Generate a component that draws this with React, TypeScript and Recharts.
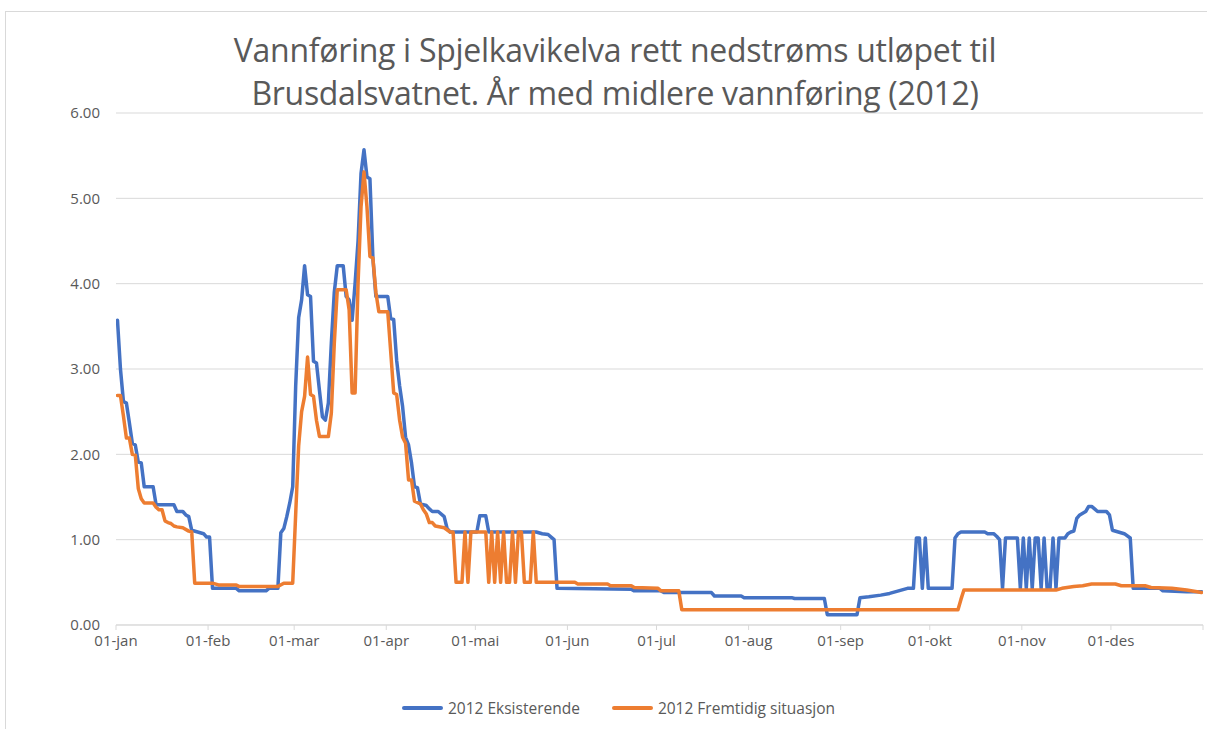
import React from 'react';
import { LineChart, Line, XAxis, YAxis, CartesianGrid } from 'recharts';

const titleLines = [
  'Vannføring i Spjelkavikelva rett nedstrøms utløpet til',
  'Brusdalsvatnet. År med midlere vannføring (2012)',
];
const seriesNames = ['2012 Eksisterende', '2012 Fremtidig situasjon'];
const seriesColors = ['#4472C4', '#ED7D31'];

const monthStartDays = [0, 31, 60, 91, 121, 152, 182, 213, 244, 274, 305, 335, 366];
const monthLabels = ['01-jan', '01-feb', '01-mar', '01-apr', '01-mai', '01-jun', '01-jul', '01-aug', '01-sep', '01-okt', '01-nov', '01-des', ''];
const yTicks = [0, 1, 2, 3, 4, 5, 6];

// Day of year (0 = 1 January 2012) and flow values
const eksisterendeDays = [
  0, 1, 2, 3, 4, 5, 6, 7, 8, 9, 12, 13, 19, 20, 22, 23, 24, 25, 27, 29, 30, 31, 32, 40, 41, 50, 51, 54,
  55, 56, 57, 58, 59, 60, 61, 62, 63, 64, 65, 66, 67, 68, 69, 70, 71, 72, 73, 74, 76, 77, 78, 79, 80, 81,
  82, 83, 84, 85, 86, 87, 91, 92, 93, 94, 95, 96, 97, 98, 99, 100, 101, 102, 104, 105, 106, 108, 110, 111,
  112, 121, 122, 124, 125, 141, 143, 145, 146, 147, 148, 173, 174, 183, 184, 200, 201, 210, 211, 227, 228,
  238, 239, 249, 250, 253, 257, 260, 263, 266, 268, 269, 270, 271, 272, 273, 281, 282, 283, 284, 292, 293,
  295, 296, 297, 298, 299, 303, 304, 305, 306, 307, 308, 309, 310, 311, 312, 313, 314, 315, 316, 317, 319,
  320, 321, 322, 323, 324, 325, 326, 327, 328, 329, 330, 333, 334, 335, 337, 339, 341, 342, 351, 352, 360, 365,
];
const eksisterendeValues = [
  3.57, 3.0, 2.62, 2.6, 2.37, 2.13, 2.11, 1.91, 1.9, 1.62, 1.62, 1.41, 1.41, 1.33, 1.33, 1.29, 1.27, 1.11, 1.09, 1.07, 1.03, 1.03, 0.43, 0.43, 0.4, 0.4, 0.43, 0.43,
  1.08, 1.13, 1.27, 1.43, 1.62, 2.8, 3.6, 3.81, 4.21, 3.87, 3.85, 3.09, 3.07, 2.75, 2.44, 2.4, 2.6, 3.3, 3.9, 4.21, 4.21, 3.85, 3.81, 3.57, 4.0, 4.5,
  5.29, 5.57, 5.25, 5.23, 4.3, 3.85, 3.85, 3.59, 3.58, 3.1, 2.8, 2.56, 2.2, 2.11, 1.9, 1.62, 1.61, 1.42, 1.4, 1.36, 1.33, 1.33, 1.27, 1.13,
  1.09, 1.09, 1.28, 1.28, 1.09, 1.09, 1.07, 1.06, 1.03, 1.0, 0.43, 0.42, 0.4, 0.4, 0.38, 0.38, 0.34, 0.34, 0.32, 0.32, 0.31,
  0.31, 0.12, 0.12, 0.32, 0.33, 0.35, 0.37, 0.4, 0.43, 0.43, 1.02, 1.02, 0.43, 1.02, 0.43, 0.43, 1.02, 1.07, 1.09, 1.09, 1.07,
  1.07, 1.04, 1.0, 0.43, 1.02, 1.02, 0.43, 1.02, 0.43, 1.02, 0.43, 1.02, 1.02, 0.43, 1.02, 0.43, 0.43, 1.02, 0.43, 1.02, 1.02,
  1.07, 1.09, 1.1, 1.25, 1.29, 1.31, 1.33, 1.39, 1.39, 1.36, 1.33, 1.33, 1.29, 1.11, 1.09, 1.07, 1.02, 0.43, 0.43, 0.4, 0.39, 0.39,
];

const fremtidigDays = [
  0, 1, 2, 3, 4, 5, 6, 7, 8, 9, 12, 13, 14, 15, 16, 17, 18, 19, 20, 22, 24, 25, 26, 32, 34, 40, 41, 54, 56, 59,
  60, 61, 62, 63, 64, 65, 66, 67, 68, 71, 72, 73, 74, 77, 78, 79, 80, 81, 82, 83, 84, 85, 86, 87, 88, 91, 92, 93,
  94, 95, 96, 97, 98, 99, 100, 102, 103, 104, 105, 106, 107, 110, 112, 113, 114, 116, 117, 118, 119, 124, 125,
  126, 127, 128, 129, 130, 131, 132, 133, 134, 135, 136, 137, 139, 140, 141, 154, 155, 165, 166, 173, 174, 182,
  183, 189, 190, 283, 284, 285, 316, 318, 322, 325, 328, 336, 338, 346, 348, 355, 360, 365,
];
const fremtidigValues = [
  2.69, 2.69, 2.45, 2.19, 2.19, 2.0, 1.99, 1.6, 1.48, 1.43, 1.43, 1.38, 1.35, 1.35, 1.22, 1.2, 1.19, 1.16, 1.15, 1.14, 1.1, 1.09, 0.49, 0.49, 0.47, 0.47, 0.45, 0.45, 0.49, 0.49,
  1.3, 2.1, 2.5, 2.68, 3.14, 2.7, 2.68, 2.4, 2.21, 2.21, 2.48, 3.3, 3.93, 3.93, 3.69, 2.72, 2.72, 4.0, 4.9, 5.31, 4.9, 4.32, 4.3, 3.9, 3.67, 3.67, 3.2, 2.72,
  2.7, 2.4, 2.2, 2.13, 1.7, 1.7, 1.45, 1.42, 1.35, 1.3, 1.2, 1.2, 1.16, 1.14, 1.09, 1.09, 0.5, 0.5, 1.09, 0.5, 1.09, 1.09, 0.5,
  1.09, 0.5, 1.09, 0.5, 1.09, 0.5, 0.5, 1.09, 0.5, 1.09, 1.09, 0.5, 0.5, 1.09, 0.5, 0.5, 0.48, 0.48, 0.46, 0.46, 0.44, 0.43,
  0.4, 0.4, 0.18, 0.18, 0.3, 0.41, 0.41, 0.43, 0.45, 0.46, 0.48, 0.48, 0.46, 0.46, 0.44, 0.43, 0.41, 0.38,
];

const toPoints = (days: number[], values: number[]) =>
  days.map((d, i) => ({ x: d + 0.5, y: values[i] }));

const seriesData = [
  toPoints(eksisterendeDays, eksisterendeValues),
  toPoints(fremtidigDays, fremtidigValues),
];

const FONT = "'Open Sans', 'Noto Sans', sans-serif";
const TEXT = '#595959';
const GRID = '#d9d9d9';

export default function App() {
  return (
    <div style={{ position: 'absolute', left: 0, top: 0, width: 1207, height: 729, background: '#fff', overflow: 'hidden', fontFamily: FONT }}>
      <div style={{ position: 'absolute', left: 5, top: 11, width: 1220, height: 740, border: `1px solid ${GRID}`, boxSizing: 'border-box' }} />
      <div style={{ position: 'absolute', left: 0, top: 28, width: 1230, textAlign: 'center', color: TEXT, fontSize: 32, lineHeight: '43px', letterSpacing: -0.3 }}>
        {titleLines.map((t) => (
          <div key={t}>{t}</div>
        ))}
      </div>
      <div style={{ position: 'absolute', left: 0, top: 0 }}>
        <LineChart width={1207} height={729} margin={{ top: 113, right: 4, left: 56, bottom: 74 }}>
          <CartesianGrid vertical={false} stroke={GRID} strokeWidth={1} />
          <XAxis
            type="number"
            dataKey="x"
            domain={[0, 366]}
            ticks={monthStartDays}
            interval={0}
            allowDataOverflow
            tickFormatter={(v: number) => monthLabels[monthStartDays.indexOf(v)] ?? ''}
            axisLine={{ stroke: GRID }}
            tickLine={{ stroke: GRID }}
            tickSize={5}
            tickMargin={5}
            height={30}
            tick={{ fill: TEXT, fontSize: 15, fontFamily: FONT }}
          />
          <YAxis
            type="number"
            domain={[0, 6]}
            ticks={yTicks}
            interval={0}
            tickFormatter={(v: number) => v.toFixed(2)}
            axisLine={false}
            tickLine={false}
            tickSize={6}
            tickMargin={10}
            width={60}
            tick={{ fill: TEXT, fontSize: 15, fontFamily: FONT }}
          />
          {seriesData.map((pts, i) => (
            <Line
              key={seriesNames[i]}
              data={pts}
              dataKey="y"
              name={seriesNames[i]}
              type="linear"
              stroke={seriesColors[i]}
              strokeWidth={3.5}
              strokeLinejoin="round"
              strokeLinecap="round"
              dot={false}
              activeDot={false}
              isAnimationActive={false}
            />
          ))}
        </LineChart>
      </div>
      <div style={{ position: 'absolute', left: 402, top: 697, display: 'flex', alignItems: 'center', color: TEXT, fontSize: 15.5, lineHeight: '22px' }}>
        {seriesNames.map((n, i) => (
          <div key={n} style={{ display: 'flex', alignItems: 'center', marginRight: 32 }}>
            <div style={{ width: 41, height: 4, background: seriesColors[i], marginRight: 5, borderRadius: 2 }} />
            <span>{n}</span>
          </div>
        ))}
      </div>
    </div>
  );
}
